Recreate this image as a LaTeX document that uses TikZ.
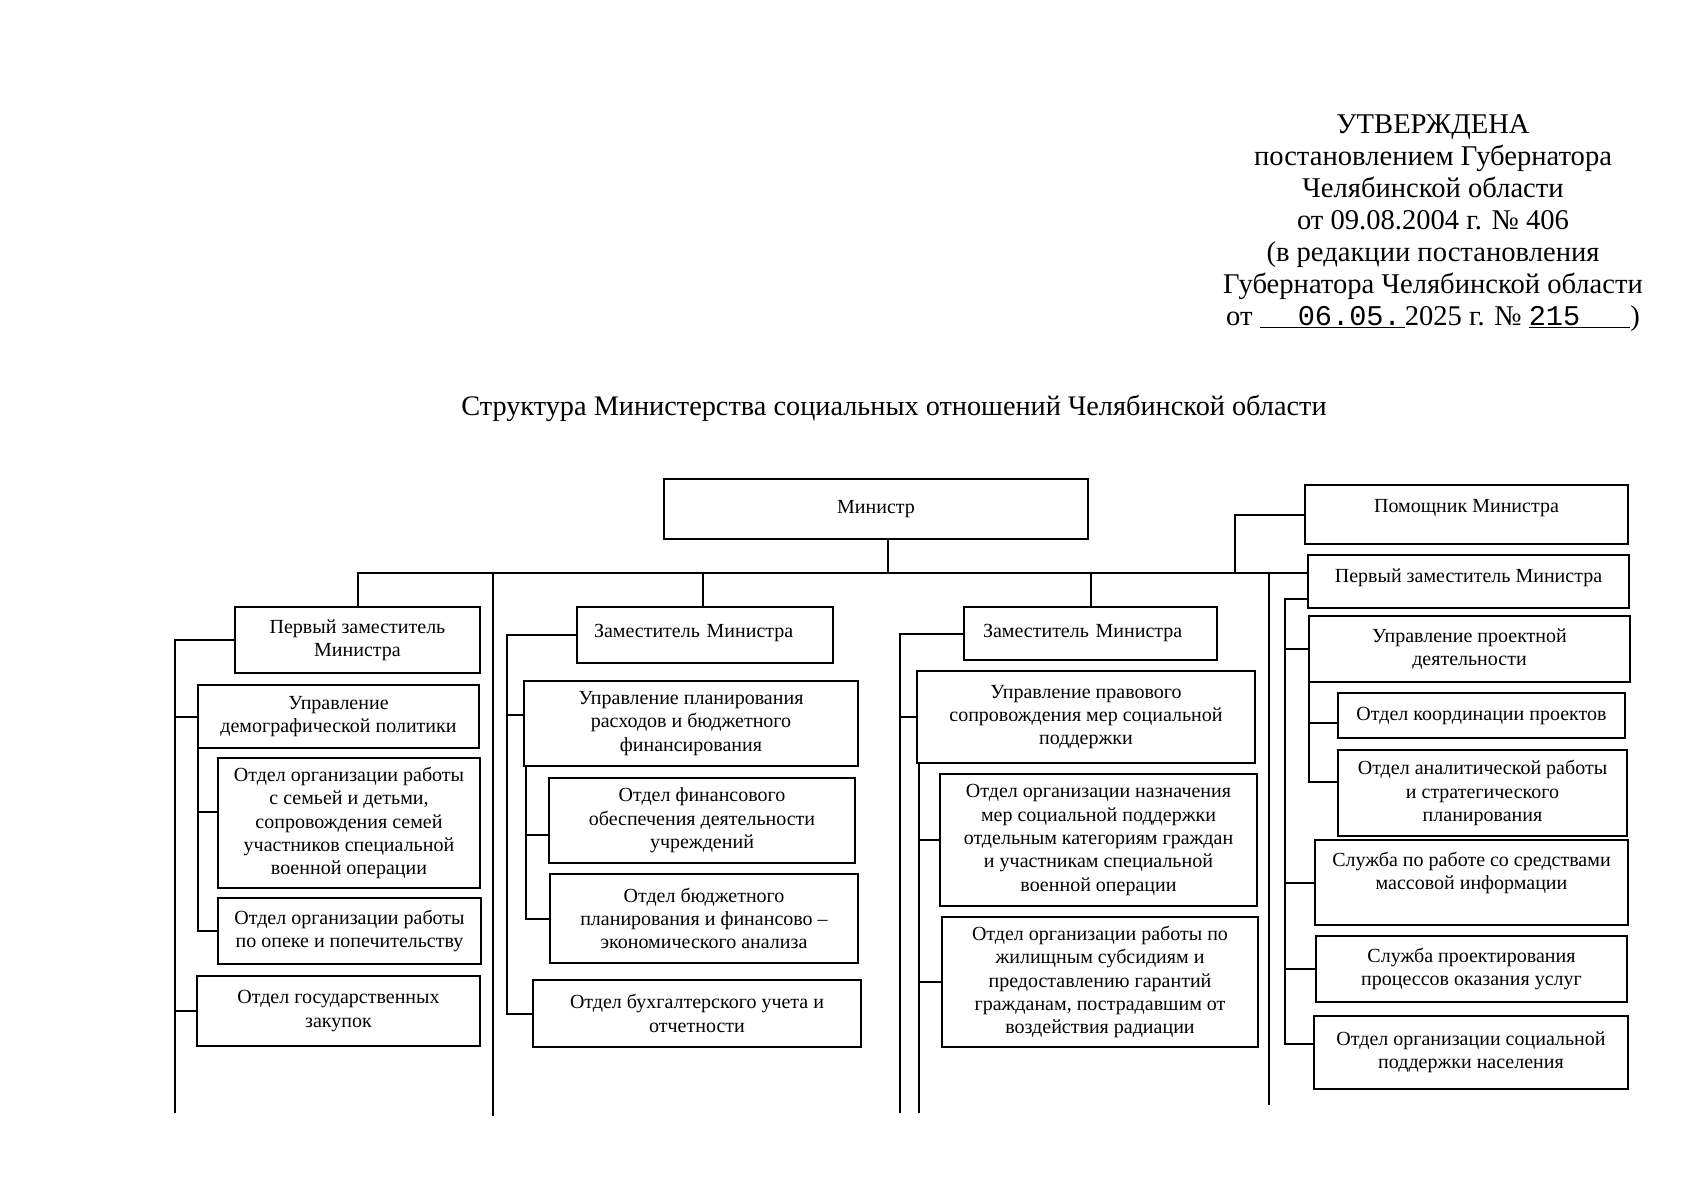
\documentclass[tikz,border=0pt]{standalone}
\usepackage{fontspec}
\setmainfont{Liberation Serif}
\setmonofont{Liberation Mono}
\usepackage{tikz}
\usetikzlibrary{calc,positioning}

\begin{document}
\begin{tikzpicture}[x=1pt,y=-1pt,line width=2pt]
	\tikzstyle{orgbox} = [draw, rectangle, anchor=north west, align=center, inner sep=3pt, font=\fontsize{20}{23.4}\selectfont]
	\useasboundingbox (0,0) rectangle (1698,1200);

	% header and title
	\node [anchor=north, align=center, inner sep=0pt, font=\fontsize{28.6}{32}\selectfont] (approved) at (1433,114)
		{УТВЕРЖДЕНА\\ постановлением Губернатора\\ Челябинской области\\ от 09.08.2004 г. № 406\\ (в редакции постановления\\ Губернатора Челябинской области\\ от \underline{\hspace{38pt}\texttt{06.05.}\hspace{4pt}}2025 г. № \underline{\texttt{215}\hspace{50pt}})};
	\node [anchor=base, inner sep=0pt, font=\fontsize{28.3}{32}\selectfont] (title) at (894,415)
		{Структура Министерства социальных отношений Челябинской области};

	% top level
	\node [orgbox, minimum width=424, minimum height=60] (minister) at (663,478) {Министр};
	\node [orgbox, minimum width=323, minimum height=59, text height=24pt, text depth=29pt] (pom) at (1304,484) {Помощник Министра};
	\node [orgbox, minimum width=321, minimum height=53, text height=24pt, text depth=23pt] (pz4) at (1307,554) {Первый заместитель Министра};

	% first column
	\node [orgbox, minimum width=245, minimum height=66] (pz1) at (234,606) {Первый заместитель\\ Министра};
	\node [orgbox, minimum width=281, minimum height=63] (udp) at (197,684) {Управление\\ демографической политики};
	\node [orgbox, minimum width=262, minimum height=130] (osem) at (217,757) {Отдел организации работы\\ с семьей и детьми,\\ сопровождения семей\\ участников специальной\\ военной операции};
	\node [orgbox, minimum width=263, minimum height=66] (oopek) at (217,897) {Отдел организации работы\\ по опеке и попечительству};
	\node [orgbox, minimum width=283, minimum height=70] (ozak) at (196,975) {Отдел государственных\\ закупок};

	% second column
	\node [orgbox, minimum width=256, minimum height=56, text width=222pt, align=left, text height=27pt, text depth=23pt] (zam2) at (576,606) {Заместитель Министра};
	\node [orgbox, minimum width=334, minimum height=85] (upr) at (523,680) {Управление планирования\\ расходов и бюджетного\\ финансирования};
	\node [orgbox, minimum width=306, minimum height=85] (ofin) at (548,777) {Отдел финансового\\ обеспечения деятельности\\ учреждений};
	\node [orgbox, minimum width=308, minimum height=89] (obud) at (549,873) {Отдел бюджетного\\ планирования и финансово –\\ экономического анализа};
	\node [orgbox, minimum width=328, minimum height=67] (obuh) at (532,979) {Отдел бухгалтерского учета и\\ отчетности};

	% third column
	\node [orgbox, minimum width=253, minimum height=53, text width=215pt, align=left, text height=27pt, text depth=20pt] (zam3) at (963,606) {Заместитель Министра};
	\node [orgbox, minimum width=338, minimum height=92] (ups) at (916,670) {Управление правового\\ сопровождения мер социальной\\ поддержки};
	\node [orgbox, minimum width=317, minimum height=132] (onaz) at (939,773) {Отдел организации назначения\\ мер социальной поддержки\\ отдельным категориям граждан\\ и участникам специальной\\ военной операции};
	\node [orgbox, minimum width=316, minimum height=130] (ozhil) at (941,916) {Отдел организации работы по\\ жилищным субсидиям и\\ предоставлению гарантий\\ гражданам, пострадавшим от\\ воздействия радиации};

	% fourth column
	\node [orgbox, minimum width=321, minimum height=66] (upd) at (1308,615) {Управление проектной\\ деятельности};
	\node [orgbox, minimum width=287, minimum height=45] (okoord) at (1337,692) {Отдел координации проектов};
	\node [orgbox, minimum width=289, minimum height=86] (oanal) at (1337,749) {Отдел аналитической работы\\ и стратегического\\ планирования};
	\node [orgbox, minimum width=313, minimum height=85, text depth=23pt] (ssmi) at (1314,839) {Служба по работе со средствами\\ массовой информации};
	\node [orgbox, minimum width=311, minimum height=66] (sproc) at (1315,935) {Служба проектирования\\ процессов оказания услуг};
	\node [orgbox, minimum width=314, minimum height=73] (osoc) at (1313,1015) {Отдел организации социальной\\ поддержки населения};

	% bus and trunk positions
	\coordinate (bus) at (888,573);
	\coordinate (end1) at (493,1116);
	\coordinate (end4) at (1269,1105);
	\coordinate (pomx) at (1235,573);
	\coordinate (c1) at (175,1113);
	\coordinate (c2) at (507,0);
	\coordinate (c3) at (900,1113);
	\coordinate (c3b) at (919,1113);
	\coordinate (c4) at (1285,0);
	\coordinate (socin) at ([yshift=9pt]osoc.west);

	% main bus
	\draw (bus) -- (bus |- minister.south);
	\draw (pz1.north) |- (pz4.west |- bus);
	\draw ([xshift=-2pt]zam2.north) -- ([xshift=-2pt]zam2.north |- bus);
	\draw (zam3.north) -- (zam3.north |- bus);
	\draw (end1 |- bus) -- (end1);
	\draw (end4 |- bus) -- (end4);
	\draw (pom.west) -| (pomx);

	% first column
	\draw (pz1.west) -| (c1);
	\draw (udp.west) -- (udp.west -| c1);
	\draw (ozak.west) -- (ozak.west -| c1);
	\draw ([xshift=1pt]udp.south west) |- (oopek.west);
	\draw ([yshift=11pt]osem.west) -- ([yshift=11pt]osem.west -| udp.south west);

	% second column
	\draw (zam2.west) -| (c2 |- obuh.west) -- (obuh.west);
	\draw ([yshift=9pt]upr.west) -- ([yshift=9pt]upr.west -| c2);
	\draw ([xshift=3pt]upr.south west) |- (obud.west);
	\draw ([yshift=-14pt]ofin.west) -- ([yshift=-14pt,xshift=3pt]ofin.west -| upr.south west);

	% third column
	\draw (zam3.west) -| (c3);
	\draw (ups.west) -- (ups.west -| c3);
	\draw (ups.south west -| c3b) -- (c3b);
	\draw (onaz.west) -- (onaz.west -| c3b);
	\draw (ozhil.west) -- (ozhil.west -| c3b);

	% fourth column
	\draw ([yshift=-17pt]pz4.west) -| (c4 |- socin) -- (socin);
	\draw (upd.west) -- (upd.west -| c4);
	\draw (ssmi.west) -- (ssmi.west -| c4);
	\draw (sproc.west) -- (sproc.west -| c4);
	\draw ([xshift=1pt]upd.south west) |- ([yshift=11pt]oanal.west);
	\draw ([yshift=-7pt]okoord.west) -- ([yshift=-7pt,xshift=1pt]okoord.west -| upd.south west);
\end{tikzpicture}
\end{document}
